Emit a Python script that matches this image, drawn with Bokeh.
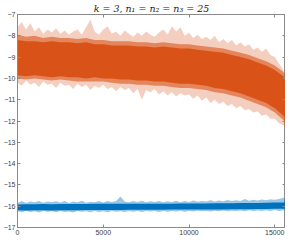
from bokeh.plotting import figure
from bokeh.models import LinearAxis, FixedTicker
from bokeh.embed import file_html
from bokeh.resources import INLINE

# ---- data (envelopes of the dense noisy series) ----
x_fine = [0, 250, 500, 750, 1000, 1250, 1500, 1750, 2000, 2250, 2500, 2750, 3000, 3250,
          3500, 3750, 4000, 4250, 4500, 4750, 5000, 5250, 5500, 5750, 6000, 6250, 6500,
          6750, 7000, 7250, 7500, 7750, 8000, 8250, 8500, 8750, 9000, 9250, 9500, 9750,
          10000, 10250, 10500, 10750, 11000, 11250, 11500, 11750, 12000, 12250, 12500,
          12750, 13000, 13250, 13500, 13750, 14000, 14250, 14500, 14750, 15000, 15250,
          15500, 15625]

orange_outer_hi = [-7.6, -7.35, -7.7, -7.4, -7.8, -7.6, -7.9, -7.7, -7.85, -7.65, -7.9, -7.75,
                   -7.95, -7.8, -7.7, -7.95, -7.6, -7.25, -7.8, -7.95, -7.7, -7.55, -7.9, -7.8,
                   -8.0, -7.75, -7.9, -8.05, -7.85, -8.0, -7.8, -7.95, -8.05, -7.85, -7.7, -7.95,
                   -7.55, -7.8, -7.6, -8.0, -7.85, -8.1, -7.95, -8.15, -8.05, -8.2, -8.0, -8.3,
                   -8.15, -8.35, -8.2, -8.45, -8.3, -8.5, -8.4, -8.65, -8.55, -8.75, -8.6, -8.9,
                   -9.0, -9.3, -9.6, -10.0]
orange_outer_lo = [-10.2, -10.35, -10.1, -10.3, -10.2, -10.4, -10.15, -10.3, -10.25, -10.45,
                   -10.2, -10.35, -10.3, -10.5, -10.25, -10.4, -10.3, -10.55, -10.35, -10.45,
                   -10.3, -10.5, -10.4, -10.6, -10.4, -10.55, -10.45, -10.7, -10.5, -11.0,
                   -10.55, -10.65, -10.5, -10.75, -10.6, -10.8, -10.65, -10.85, -10.7, -10.8,
                   -10.75, -10.95, -10.8, -11.05, -10.9, -11.15, -11.0, -11.2, -11.1, -11.3,
                   -11.2, -11.4, -11.3, -11.5, -11.45, -11.6, -11.55, -11.75, -11.7, -11.9,
                   -11.9, -12.1, -12.2, -12.35]

x_coarse = [0, 500, 1000, 1500, 2000, 2500, 3000, 3500, 4000, 4500, 5000, 5500, 6000, 6500,
            7000, 7500, 8000, 8500, 9000, 9500, 10000, 10500, 11000, 11500, 12000, 12500,
            13000, 13500, 14000, 14500, 15000, 15500, 15625]

orange_mid_hi = [-7.95, -8.05, -8.0, -8.1, -8.05, -8.1, -8.1, -8.15, -8.1, -8.2, -8.2, -8.25,
                 -8.25, -8.25, -8.3, -8.3, -8.35, -8.3, -8.35, -8.4, -8.4, -8.45, -8.5, -8.55,
                 -8.6, -8.7, -8.8, -8.9, -9.05, -9.2, -9.4, -9.7, -9.9]
orange_mid_lo = [-10.0, -10.05, -10.0, -10.05, -10.1, -10.05, -10.1, -10.15, -10.15, -10.15,
                 -10.15, -10.2, -10.25, -10.25, -10.3, -10.3, -10.35, -10.35, -10.4, -10.45,
                 -10.45, -10.5, -10.55, -10.65, -10.7, -10.8, -10.9, -11.05, -11.2, -11.35,
                 -11.6, -11.95, -12.1]
orange_core_hi = [-8.2, -8.25, -8.25, -8.3, -8.25, -8.3, -8.3, -8.35, -8.3, -8.4, -8.4, -8.45,
                  -8.45, -8.45, -8.5, -8.5, -8.55, -8.5, -8.55, -8.6, -8.6, -8.65, -8.7, -8.75,
                  -8.8, -8.9, -9.0, -9.1, -9.25, -9.4, -9.6, -9.9, -10.1]
orange_core_lo = [-9.85, -9.9, -9.85, -9.9, -9.95, -9.9, -9.95, -9.95, -10.0, -9.95, -10.0,
                  -10.0, -10.05, -10.05, -10.1, -10.1, -10.15, -10.15, -10.2, -10.25, -10.25,
                  -10.3, -10.35, -10.45, -10.5, -10.6, -10.7, -10.85, -11.0, -11.15, -11.4,
                  -11.75, -11.95]

blue_outer_hi = [-15.85, -15.75, -15.85, -15.78, -15.82, -15.76, -15.84, -15.78, -15.8,
                 -15.77, -15.83, -15.75, -15.85, -15.78, -15.82, -15.74, -15.84, -15.79,
                 -15.81, -15.76, -15.83, -15.75, -15.8, -15.76, -15.55, -15.78, -15.82,
                 -15.76, -15.8, -15.74, -15.82, -15.77, -15.8, -15.75, -15.82, -15.77, -15.8,
                 -15.74, -15.81, -15.76, -15.8, -15.73, -15.79, -15.75, -15.78, -15.72,
                 -15.78, -15.73, -15.77, -15.71, -15.76, -15.72, -15.75, -15.66, -15.74,
                 -15.7, -15.73, -15.68, -15.72, -15.67, -15.7, -15.66, -15.6, -15.68]
blue_outer_lo = [-16.24, -16.28, -16.22, -16.27, -16.24, -16.29, -16.23, -16.26, -16.24,
                 -16.28, -16.22, -16.27, -16.25, -16.29, -16.23, -16.26, -16.24, -16.28,
                 -16.23, -16.27, -16.24, -16.28, -16.22, -16.26, -16.24, -16.27, -16.22,
                 -16.26, -16.23, -16.27, -16.22, -16.25, -16.23, -16.27, -16.22, -16.26,
                 -16.22, -16.25, -16.21, -16.26, -16.22, -16.25, -16.21, -16.24, -16.22,
                 -16.25, -16.21, -16.24, -16.2, -16.24, -16.21, -16.23, -16.2, -16.24,
                 -16.19, -16.23, -16.2, -16.22, -16.19, -16.23, -16.18, -16.22, -16.19,
                 -16.21]
blue_core_hi = [-15.92, -15.91, -15.91, -15.9, -15.91, -15.9, -15.9, -15.9, -15.9,
                -15.89, -15.89, -15.89, -15.88, -15.89, -15.89, -15.88, -15.88, -15.88,
                -15.88, -15.87, -15.87, -15.87, -15.87, -15.86, -15.86, -15.86, -15.85, -15.85,
                -15.85, -15.84, -15.83, -15.83, -15.83]
blue_core_lo = [-16.19, -16.2, -16.19, -16.19, -16.2, -16.19, -16.19, -16.19, -16.18,
                -16.18, -16.18, -16.18, -16.18, -16.17, -16.17, -16.17, -16.17, -16.17,
                -16.16, -16.16, -16.16, -16.16, -16.15, -16.15, -16.15, -16.14, -16.14, -16.14,
                -16.13, -16.13, -16.12, -16.12, -16.12]

x_ticks = [0, 5000, 10000, 15000]
y_ticks = [-17, -16, -15, -14, -13, -12, -11, -10, -9, -8, -7]
title_text = "k = 3, n\u2081 = n\u2082 = n\u2083 = 25"

ORANGE = "#D95319"
BLUE = "#0072BD"
AX = "#8a8a8a"
LBL = "#404040"

p = figure(width=285, height=237, x_range=(0, 15625), y_range=(-17, -7),
           output_backend="svg", toolbar_location=None,
           min_border_left=0, min_border_right=0, min_border_top=0, min_border_bottom=0)

p.title.text = title_text
p.title.align = "center"
p.title.text_font = "DejaVu Serif"
p.title.text_font_style = "italic"
p.title.text_font_size = "9.5px"
p.title.text_color = "#222222"
p.title.standoff = 1

p.xgrid.visible = False
p.ygrid.visible = False
p.outline_line_color = AX
p.background_fill_color = "white"
p.border_fill_color = "white"

# orange series
p.varea(x=x_fine, y1=orange_outer_lo, y2=orange_outer_hi, fill_color=ORANGE, fill_alpha=0.28)
p.varea(x=x_coarse, y1=orange_mid_lo, y2=orange_mid_hi, fill_color=ORANGE, fill_alpha=0.6)
p.varea(x=x_coarse, y1=orange_core_lo, y2=orange_core_hi, fill_color=ORANGE, fill_alpha=1.0)

# blue series
p.varea(x=x_fine, y1=blue_outer_lo, y2=blue_outer_hi, fill_color=BLUE, fill_alpha=0.4)
p.varea(x=x_coarse, y1=blue_core_lo, y2=blue_core_hi, fill_color=BLUE, fill_alpha=1.0)

def style_axis(ax, ticks, show_labels):
    ax.ticker = FixedTicker(ticks=ticks)
    ax.minor_tick_line_color = None
    ax.major_tick_in = 3
    ax.major_tick_out = 0
    ax.axis_line_color = AX
    ax.major_tick_line_color = AX
    if show_labels:
        ax.major_label_text_font = "Liberation Sans"
        ax.major_label_text_font_size = "7px"
        ax.major_label_text_color = LBL
        ax.major_label_standoff = 2
    else:
        ax.major_label_text_font_size = "1px"
        ax.major_label_text_color = None
        ax.major_label_standoff = 0

style_axis(p.xaxis[0], x_ticks, True)
style_axis(p.yaxis[0], y_ticks, True)

top = LinearAxis()
right = LinearAxis()
p.add_layout(top, "above")
p.add_layout(right, "right")
style_axis(top, x_ticks, False)
style_axis(right, y_ticks, False)

open("out.html", "w").write(file_html(p, INLINE))
